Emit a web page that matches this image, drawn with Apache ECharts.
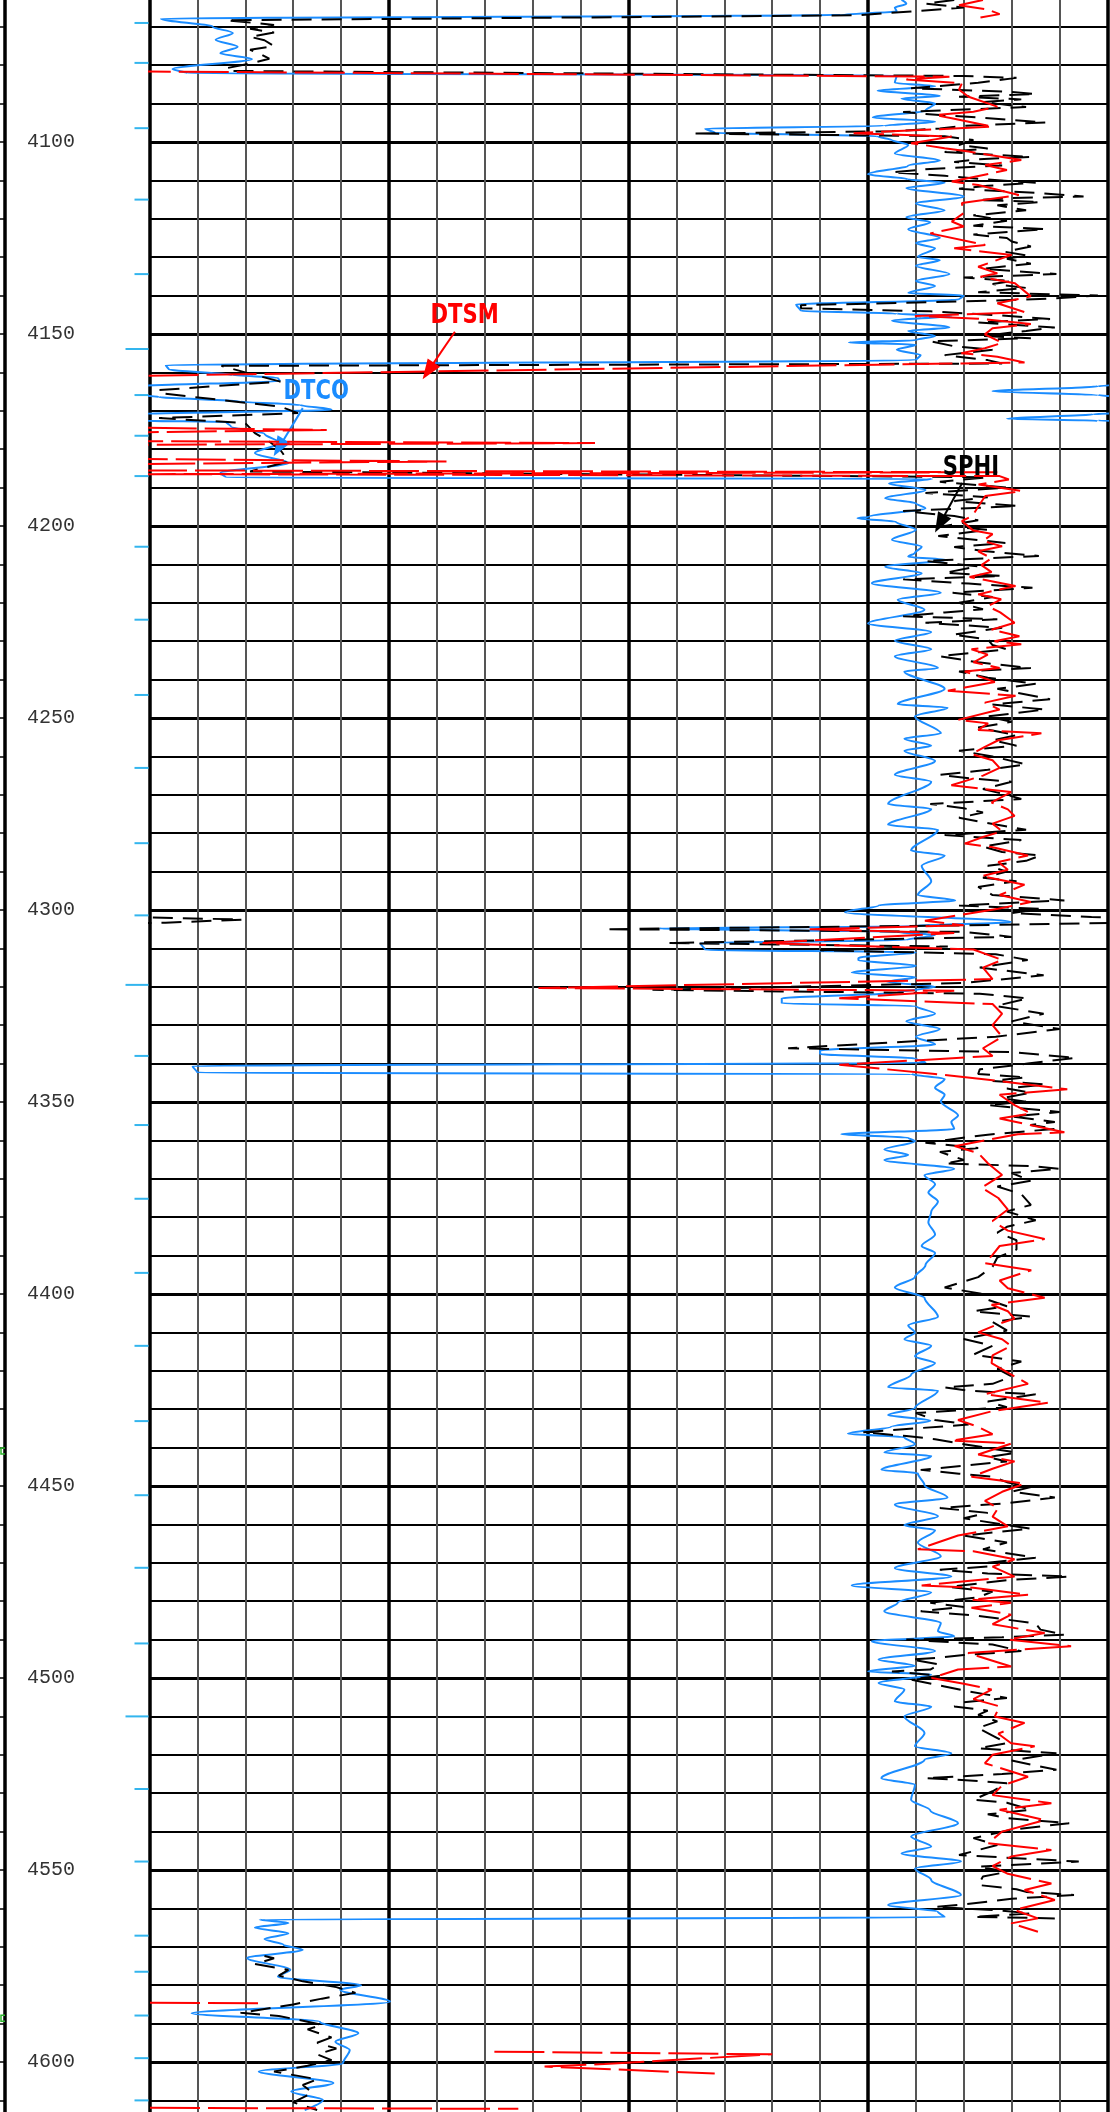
<!DOCTYPE html>
<html>
<head>
<meta charset="utf-8">
<script src="https://cdn.jsdelivr.net/npm/echarts@6/dist/echarts.min.js"></script>
<style>
  html, body { margin: 0; padding: 0; background: #ffffff; }
  #log { width: 1110px; height: 2112px; }
</style>
</head>
<body>
<div id="log"></div>
<script>
// Depth window of the log (m)
const DEPTH_TOP = 4060;
const DEPTH_BASE = 4620;

// Track scales: left value -> right value
const DTCO_SCALE = { left: 140, right: 40 };   // us/ft
const DTSM_SCALE = { left: 540, right: 40 };   // us/ft
const SPHI_SCALE = { left: 0.6, right: 0 };    // v/v

// Compressional slowness [depth, DTCO]
const DTCO = [
  [4063.0, 61.5], [4064.0, 61.0], [4065.0, 62.2], [4066.0, 62.0], [4066.9, 67.8],
  [4067.9, 138.8], [4070.0, 133.4], [4071.6, 131.3], [4073.4, 133.1], [4075.2, 130.8],
  [4076.9, 132.6], [4078.4, 129.3], [4081.0, 137.6], [4082.1, 136.0], [4082.6, 62.0],
  [4084.6, 62.2], [4085.5, 58.0], [4086.6, 64.0], [4088.0, 57.5], [4088.7, 61.5],
  [4090.0, 58.0], [4091.8, 59.0], [4093.6, 64.5], [4094.7, 58.0], [4095.8, 63.3],
  [4096.5, 82.0], [4097.6, 81.0], [4098.5, 64.0], [4099.5, 62.5], [4100.8, 60.8],
  [4103.0, 62.2], [4104.8, 57.5], [4106.1, 60.8], [4108.4, 65.0], [4109.7, 60.8],
  [4110.6, 57.0], [4112.0, 61.0], [4114.2, 55.0], [4116.0, 60.0], [4117.8, 57.0],
  [4119.6, 61.0], [4120.9, 58.5], [4122.7, 60.8], [4125.0, 57.5], [4126.3, 60.0],
  [4127.7, 58.0], [4129.9, 59.8], [4130.8, 57.5], [4132.2, 60.0], [4134.4, 56.5],
  [4136.2, 60.0], [4137.5, 58.0], [4139.3, 60.8], [4140.0, 55.0], [4141.0, 55.5],
  [4142.3, 72.5], [4144.0, 72.0], [4144.7, 62.0], [4145.3, 56.3], [4146.5, 62.5],
  [4148.3, 56.5], [4149.2, 60.8], [4150.5, 58.0], [4151.6, 60.0], [4152.2, 67.0],
  [4152.8, 60.0], [4154.1, 62.0], [4155.5, 59.5], [4156.8, 60.0], [4158.1, 138.3],
  [4159.2, 138.0], [4160.7, 131.3], [4161.4, 126.6], [4162.2, 126.4], [4163.6, 141.0],
  [4164.9, 152.0], [4165.9, 141.0], [4166.4, 139.0], [4167.6, 130.5], [4168.5, 124.3],
  [4169.7, 121.0], [4170.9, 141.5], [4172.1, 150.5], [4172.6, 141.0], [4172.9, 132.0],
  [4174.1, 131.5], [4176.0, 128.0], [4178.4, 126.4], [4181.0, 129.0], [4183.6, 125.5],
  [4186.2, 132.6], [4187.4, 132.0], [4187.7, 58.3], [4188.9, 62.8], [4190.6, 59.0],
  [4192.8, 63.2], [4194.1, 60.0], [4195.4, 59.0], [4197.6, 64.9], [4198.0, 66.1],
  [4198.9, 62.1], [4201.0, 60.0], [4203.6, 62.5], [4205.4, 59.4], [4207.0, 60.1],
  [4208.0, 60.8], [4208.8, 56.9], [4210.6, 63.2], [4212.3, 59.4], [4214.9, 64.6],
  [4217.4, 57.4], [4219.2, 61.9], [4221.8, 59.1], [4225.4, 65.0], [4227.6, 58.4],
  [4229.9, 62.2], [4232.1, 58.4], [4233.9, 62.2], [4237.0, 57.7], [4237.9, 61.2],
  [4242.4, 57.0], [4246.4, 61.9], [4247.3, 56.7], [4249.6, 60.1], [4254.0, 57.4],
  [4255.4, 61.2], [4257.2, 58.4], [4258.5, 61.2], [4261.2, 58.0], [4264.8, 62.2],
  [4266.6, 58.4], [4272.4, 62.9], [4273.7, 58.4], [4277.8, 62.9], [4279.1, 57.7],
  [4284.5, 60.5], [4285.8, 57.0], [4288.5, 59.4], [4292.5, 58.4], [4296.1, 59.8],
  [4297.5, 55.9], [4298.8, 63.9], [4300.6, 67.4], [4303.1, 50.1], [4304.2, 60.0],
  [4304.8, 86.8], [4305.7, 62.0], [4306.5, 58.0], [4307.8, 61.0], [4308.6, 82.5],
  [4310.4, 82.0], [4311.0, 60.0], [4312.5, 66.0], [4313.1, 66.0], [4314.5, 60.0],
  [4316.3, 66.7], [4317.5, 60.0], [4318.7, 63.0], [4320.0, 58.0], [4321.5, 62.0],
  [4323.0, 74.0], [4324.3, 74.0], [4325.0, 60.0], [4327.0, 58.0], [4329.0, 61.0],
  [4331.0, 57.5], [4333.0, 60.0], [4335.0, 58.0], [4336.6, 70.0], [4337.5, 70.0],
  [4338.7, 60.0], [4339.8, 59.0], [4340.6, 135.5], [4342.4, 135.0], [4342.7, 60.5],
  [4344.0, 57.0], [4346.3, 58.0], [4348.1, 57.0], [4349.9, 57.4], [4353.5, 55.6],
  [4355.2, 56.3], [4357.0, 56.0], [4358.4, 67.8], [4359.3, 60.8], [4360.2, 60.1],
  [4362.4, 63.3], [4363.8, 60.8], [4365.1, 63.3], [4367.4, 56.0], [4369.1, 59.1],
  [4371.4, 58.0], [4373.6, 58.7], [4375.9, 57.7], [4378.6, 58.4], [4381.3, 58.7],
  [4384.5, 58.0], [4387.5, 59.4], [4389.3, 58.0], [4392.5, 59.0], [4395.6, 60.1],
  [4398.3, 62.2], [4401.0, 59.1], [4405.9, 57.7], [4408.2, 60.8], [4410.0, 60.1],
  [4411.8, 61.2], [4413.5, 58.4], [4416.2, 60.1], [4418.0, 58.0], [4421.0, 60.5],
  [4424.3, 62.9], [4425.2, 57.7], [4429.7, 60.1], [4431.5, 62.9], [4433.0, 58.5],
  [4434.6, 62.6], [4436.4, 67.1], [4437.3, 61.2], [4439.1, 60.1], [4441.3, 63.3],
  [4442.2, 58.4], [4445.8, 63.6], [4446.7, 59.8], [4449.8, 59.1], [4453.0, 56.7],
  [4454.8, 62.2], [4457.9, 57.7], [4460.2, 61.2], [4461.5, 58.0], [4464.7, 59.8],
  [4468.3, 57.4], [4471.4, 62.2], [4473.6, 56.3], [4475.9, 66.7], [4477.7, 58.4],
  [4480.4, 61.9], [4482.6, 63.3], [4485.7, 57.4], [4487.8, 57.7], [4489.1, 56.0],
  [4490.4, 64.6], [4493.0, 58.0], [4495.2, 63.9], [4496.8, 60.1], [4498.3, 65.0],
  [4499.1, 58.4], [4501.3, 63.9], [4503.0, 61.2], [4506.1, 62.2], [4507.5, 58.4],
  [4510.0, 61.2], [4514.3, 59.1], [4517.8, 60.1], [4519.6, 56.3], [4521.3, 59.1],
  [4526.1, 63.6], [4527.8, 60.1], [4531.7, 60.5], [4534.5, 58.5], [4537.8, 55.6],
  [4541.3, 60.5], [4543.9, 58.4], [4545.7, 61.5], [4547.8, 55.3], [4549.6, 60.1],
  [4552.6, 58.4], [4556.5, 55.3], [4559.1, 62.9], [4560.9, 57.7], [4562.3, 57.0],
  [4562.9, 128.5], [4563.8, 125.5], [4565.0, 129.0], [4566.5, 125.5], [4568.0, 128.0],
  [4569.5, 126.0], [4570.8, 124.0], [4572.9, 129.8], [4576.0, 125.3], [4577.8, 126.6],
  [4580.0, 117.9], [4581.2, 120.1], [4584.3, 114.9], [4587.3, 135.6], [4589.5, 122.2],
  [4592.5, 118.2], [4594.7, 120.6], [4596.9, 119.1], [4600.3, 119.8], [4602.5, 128.6],
  [4605.5, 120.8], [4607.7, 125.2], [4609.9, 121.9], [4612.5, 123.8]
];

// Shear slowness [depth, DTSM]; null = no reading
const DTSM = [
  [4063.0, 105.0], [4064.4, 117.5], [4065.5, 102.5], [4066.7, 96.3], [4067.6, 106.3],
  [4068.0, null],
  [4081.6, 555.0], [4083.0, 122.5], [4083.7, 145.0], [4084.7, 116.0], [4086.4, 117.5],
  [4088.2, 112.5], [4090.8, 97.5], [4092.1, 110.0], [4093.0, 130.0], [4093.8, 121.3],
  [4096.0, 100.0], [4097.7, 172.5], [4098.6, 121.3], [4100.3, 142.5], [4101.6, 125.0],
  [4102.5, 112.5], [4104.7, 85.0], [4106.0, 103.8], [4107.3, 92.5], [4110.3, 121.3],
  [4111.2, 107.5], [4113.8, 86.3], [4115.9, 116.0], [4118.5, 115.0], [4120.7, 121.3],
  [4122.0, 115.0], [4123.8, 132.5], [4126.8, 103.8], [4127.7, 120.0], [4129.4, 90.0],
  [4132.5, 107.5], [4134.2, 97.5], [4135.1, 106.3], [4136.8, 88.3], [4140.2, 80.0],
  [4142.0, 97.5], [4144.3, 83.3], [4145.3, 140.5], [4146.0, 107.5], [4147.4, 80.0],
  [4148.5, 100.0], [4150.1, 104.0], [4152.3, 95.0], [4153.7, 104.0], [4155.0, 116.3],
  [4155.9, 97.5], [4157.4, 83.3], [4161.0, 560.0], [4174.3, 560.0], [4175.0, 447.5],
  [4175.7, 560.0], [4177.9, 560.0], [4178.4, 307.5], [4178.9, 560.0], [4182.5, 560.0],
  [4183.2, 385.0], [4183.9, 560.0], [4185.5, 560.0], [4186.0, 97.5], [4186.5, 545.0],
  [4187.0, 96.3], [4187.9, 91.5], [4189.2, 107.3], [4190.9, 84.8], [4192.2, 103.8],
  [4194.8, 107.3], [4197.4, 110.5], [4198.7, 116.0], [4201.2, 110.0], [4202.1, 100.0],
  [4203.9, 105.0], [4205.3, 95.0], [4206.6, 107.5], [4208.4, 100.5], [4210.2, 105.8],
  [4212.0, 100.5], [4213.3, 112.0], [4215.6, 88.0], [4217.8, 107.5], [4219.1, 95.5],
  [4220.9, 102.5], [4222.5, 96.0], [4225.2, 88.5], [4227.0, 100.5], [4228.7, 86.0],
  [4230.0, 99.0], [4230.8, 85.0], [4232.1, 111.0], [4233.5, 102.5], [4235.5, 110.0],
  [4237.0, 96.3], [4237.9, 114.5], [4240.6, 98.8], [4242.9, 123.3], [4244.2, 88.0],
  [4246.0, 104.0], [4247.8, 96.3], [4250.5, 118.0], [4251.4, 102.3], [4253.1, 107.5],
  [4254.0, 74.5], [4255.8, 97.0], [4257.5, 104.0], [4259.4, 111.0], [4261.0, 100.0],
  [4263.0, 96.3], [4265.0, 105.0], [4267.5, 121.5], [4269.3, 90.3], [4272.0, 100.5],
  [4273.8, 92.0], [4275.5, 88.5], [4277.5, 100.0], [4279.5, 95.0], [4281.0, 105.0],
  [4282.7, 114.5], [4283.6, 100.5], [4285.8, 81.5], [4287.5, 97.0], [4289.5, 92.0],
  [4291.2, 105.8], [4293.4, 83.3], [4296.1, 96.3], [4297.9, 80.0], [4299.7, 97.0],
  [4302.8, 135.3], [4304.0, 115.0], [4305.0, 197.0], [4306.0, 120.0], [4308.6, 220.0],
  [4310.3, 110.0], [4313.0, 95.0], [4315.0, 105.0], [4318.0, 100.0], [4320.3, 337.0],
  [4321.0, 120.0], [4323.0, 180.0], [4324.5, 100.0], [4327.0, 95.0], [4330.0, 100.0],
  [4333.0, 95.0], [4336.0, 105.0], [4338.0, 100.0], [4340.3, 180.0], [4342.7, 130.0],
  [4344.0, 105.8], [4346.7, 61.0], [4348.1, 96.3], [4350.8, 88.5], [4353.0, 80.0],
  [4354.3, 96.3], [4357.9, 62.5], [4358.4, 86.8], [4361.5, 119.8], [4363.3, 107.5],
  [4366.0, 102.3], [4369.0, 95.0], [4372.3, 105.8], [4375.0, 97.0], [4378.0, 92.0],
  [4381.0, 100.0], [4383.5, 92.0], [4385.7, 72.8], [4387.5, 96.3], [4389.8, 100.0],
  [4392.0, 104.0], [4393.8, 79.8], [4396.5, 96.3], [4398.5, 92.0], [4401.0, 72.8],
  [4402.8, 100.5], [4404.5, 92.0], [4406.4, 88.5], [4408.0, 98.0], [4410.0, 107.5],
  [4411.8, 95.0], [4413.5, 90.3], [4416.0, 100.0], [4418.0, 100.5], [4420.5, 92.0],
  [4423.4, 81.5], [4426.1, 104.0], [4428.3, 71.0], [4430.5, 100.0], [4432.8, 118.0],
  [4434.6, 107.5], [4436.5, 100.0], [4438.2, 121.5], [4438.9, 90.0], [4441.8, 107.5],
  [4443.6, 88.5], [4445.5, 100.0], [4447.6, 111.0], [4449.4, 83.3], [4451.5, 95.0],
  [4453.9, 104.0], [4455.7, 97.0], [4458.0, 100.0], [4460.5, 92.0], [4462.9, 118.0],
  [4466.5, 139.0], [4467.0, 110.0], [4469.1, 88.5], [4471.0, 100.0], [4473.6, 88.5],
  [4475.9, 137.0], [4476.5, 110.0], [4478.3, 81.5], [4479.6, 111.0], [4480.4, 90.3],
  [4481.7, 111.0], [4483.5, 90.3], [4486.0, 100.0], [4488.3, 72.8], [4490.0, 92.0],
  [4491.7, 59.0], [4493.5, 112.8], [4495.5, 100.0], [4497.0, 90.3], [4497.8, 118.0],
  [4500.0, 131.8], [4501.5, 115.0], [4503.0, 100.5], [4505.5, 110.0], [4507.4, 96.3],
  [4510.0, 98.8], [4511.7, 83.3], [4514.5, 97.0], [4517.0, 90.3], [4517.8, 78.0],
  [4520.0, 100.0], [4522.2, 104.0], [4525.7, 81.5], [4528.0, 95.0], [4530.5, 100.0],
  [4532.6, 69.3], [4534.3, 96.3], [4537.0, 72.8], [4540.0, 95.0], [4543.0, 102.3],
  [4544.8, 69.3], [4546.5, 90.3], [4549.0, 100.0], [4551.0, 92.0], [4553.5, 69.3],
  [4555.2, 83.3], [4557.8, 67.5], [4560.4, 88.5], [4562.6, 76.3], [4563.9, 90.3],
  [4566.1, 76.3], [4566.5, null],
  [4584.5, 570.0], [4584.7, 483.3], [4585.0, null],
  [4597.3, 360.0], [4598.0, 215.0], [4600.5, 302.5], [4601.2, 333.8], [4603.0, 245.0],
  [4603.5, null],
  [4611.9, 570.0], [4612.2, 347.5]
];

// Sonic porosity [depth, SPHI]; null = no reading
const SPHI = [
  [4063.0, 0.096], [4064.0, 0.114], [4065.0, 0.090], [4066.0, 0.123], [4067.0, 0.156],
  [4068.3, 0.552], [4069.5, 0.522], [4070.5, 0.537], [4071.5, 0.522], [4072.6, 0.537],
  [4073.5, 0.528], [4075.0, 0.522], [4076.0, 0.537], [4077.0, 0.531], [4078.3, 0.525],
  [4079.3, 0.534], [4080.8, 0.552], [4081.5, 0.549], [4082.8, 0.090], [4083.3, 0.057],
  [4084.6, 0.081], [4086.0, 0.123], [4086.9, 0.063], [4087.5, 0.045], [4088.2, 0.093],
  [4088.9, 0.054], [4089.6, 0.078], [4090.2, 0.066], [4090.9, 0.051], [4092.2, 0.128],
  [4093.0, 0.105], [4093.6, 0.081], [4094.9, 0.039], [4095.8, 0.090], [4096.5, 0.105],
  [4097.2, 0.135], [4097.8, 0.260], [4098.5, 0.102], [4099.5, 0.084], [4100.8, 0.093],
  [4101.7, 0.075], [4102.6, 0.102], [4103.9, 0.048], [4104.5, 0.081], [4105.2, 0.096],
  [4106.1, 0.066], [4107.0, 0.111], [4107.9, 0.135], [4108.8, 0.102], [4109.7, 0.078],
  [4110.6, 0.045], [4111.4, 0.075], [4112.2, 0.093], [4113.3, 0.042], [4114.2, 0.015],
  [4114.6, 0.060], [4115.1, 0.081], [4115.6, 0.042], [4116.5, 0.069], [4117.8, 0.051],
  [4119.1, 0.084], [4120.5, 0.063], [4121.8, 0.084], [4122.7, 0.039], [4124.1, 0.084],
  [4125.0, 0.063], [4125.9, 0.060], [4127.2, 0.048], [4128.6, 0.064], [4129.5, 0.051],
  [4130.4, 0.063], [4131.7, 0.048], [4133.0, 0.078], [4134.4, 0.032], [4135.3, 0.090],
  [4136.2, 0.060], [4137.0, 0.072], [4138.0, 0.051], [4139.1, 0.081], [4140.0, 0.006],
  [4140.7, 0.033], [4141.3, 0.069], [4142.5, 0.192], [4143.3, 0.192], [4144.1, 0.111],
  [4145.2, 0.066], [4146.1, 0.036], [4147.0, 0.081], [4148.3, 0.033], [4149.2, 0.051],
  [4150.5, 0.078], [4151.1, 0.048], [4151.9, 0.111], [4153.2, 0.096], [4154.1, 0.072],
  [4155.5, 0.102], [4156.8, 0.075], [4157.7, 0.066], [4158.3, 0.555], [4160.0, 0.540],
  [4162.4, 0.518], [4164.6, 0.594], [4165.4, 0.594], [4168.9, 0.518], [4170.6, 0.507],
  [4171.9, 0.594], [4173.2, 0.540], [4175.8, 0.534], [4178.0, 0.525], [4180.2, 0.518],
  [4183.2, 0.513], [4185.8, 0.537], [4187.3, 0.075], [4188.5, 0.105], [4190.0, 0.063],
  [4191.4, 0.114], [4192.5, 0.075], [4193.5, 0.096], [4194.8, 0.056], [4196.1, 0.128],
  [4197.4, 0.096], [4198.5, 0.081], [4200.0, 0.102], [4201.0, 0.075], [4202.6, 0.106],
  [4204.4, 0.064], [4205.5, 0.096], [4206.5, 0.078], [4207.8, 0.043], [4209.1, 0.114],
  [4210.5, 0.081], [4212.2, 0.102], [4213.0, 0.066], [4213.9, 0.128], [4215.0, 0.087],
  [4216.1, 0.047], [4217.4, 0.097], [4218.5, 0.072], [4220.0, 0.093], [4221.7, 0.078],
  [4222.5, 0.102], [4223.5, 0.128], [4224.3, 0.069], [4225.2, 0.114], [4226.5, 0.066],
  [4228.3, 0.097], [4229.5, 0.075], [4231.0, 0.072], [4232.1, 0.063], [4233.9, 0.105],
  [4235.5, 0.081], [4237.0, 0.048], [4237.9, 0.093], [4239.5, 0.075], [4241.1, 0.045],
  [4242.4, 0.069], [4245.1, 0.036], [4246.5, 0.072], [4247.8, 0.039], [4249.6, 0.075],
  [4251.0, 0.060], [4252.5, 0.081], [4254.5, 0.057], [4255.8, 0.072], [4257.2, 0.057],
  [4258.5, 0.093], [4260.0, 0.072], [4262.1, 0.051], [4263.5, 0.075], [4264.8, 0.105],
  [4265.8, 0.084], [4266.6, 0.060], [4268.5, 0.078], [4270.0, 0.063], [4271.1, 0.054],
  [4272.4, 0.111], [4273.5, 0.090], [4274.6, 0.078], [4276.0, 0.093], [4277.8, 0.069],
  [4279.1, 0.051], [4280.5, 0.102], [4281.8, 0.054], [4283.5, 0.078], [4284.9, 0.066],
  [4285.8, 0.042], [4287.2, 0.051], [4288.5, 0.075], [4290.0, 0.063], [4291.6, 0.078],
  [4292.5, 0.057], [4294.0, 0.081], [4296.1, 0.072], [4297.5, 0.027], [4298.8, 0.093],
  [4299.7, 0.042], [4300.8, 0.060], [4301.8, 0.010], [4302.5, -0.058], [4303.3, -0.010],
  [4304.0, 0.090], [4305.0, 0.315], [4305.7, 0.090], [4307.0, 0.060], [4308.6, 0.276],
  [4309.5, 0.100], [4310.5, 0.180], [4311.5, 0.070], [4313.0, 0.050], [4315.0, 0.080],
  [4317.0, 0.040], [4319.0, 0.090], [4320.8, 0.285], [4321.8, 0.080], [4323.0, 0.050],
  [4325.0, 0.070], [4327.0, 0.040], [4329.0, 0.060], [4331.0, 0.030], [4333.0, 0.070],
  [4336.0, 0.200], [4337.0, 0.060], [4338.5, 0.020], [4340.0, 0.050], [4341.5, 0.080],
  [4342.7, 0.081], [4343.6, 0.051], [4344.5, 0.072], [4345.4, 0.039], [4346.5, 0.063],
  [4347.6, 0.048], [4349.0, 0.066], [4349.9, 0.051], [4350.8, 0.075], [4352.6, 0.030],
  [4353.8, 0.060], [4355.2, 0.033], [4356.0, 0.048], [4357.0, 0.033], [4358.5, 0.075],
  [4360.6, 0.114], [4362.0, 0.081], [4363.0, 0.105], [4365.1, 0.090], [4366.0, 0.102],
  [4366.7, 0.048], [4367.4, 0.030], [4368.5, 0.060], [4370.5, 0.048], [4372.0, 0.069],
  [4374.0, 0.054], [4376.8, 0.048], [4378.5, 0.063], [4380.8, 0.045], [4382.5, 0.063],
  [4384.0, 0.069], [4386.0, 0.057], [4388.4, 0.057], [4390.5, 0.069], [4392.9, 0.072],
  [4395.6, 0.081], [4398.3, 0.102], [4400.0, 0.078], [4401.5, 0.075], [4403.2, 0.063],
  [4404.5, 0.084], [4405.9, 0.048], [4407.3, 0.072], [4409.5, 0.063], [4411.7, 0.090],
  [4413.5, 0.072], [4415.8, 0.084], [4417.6, 0.054], [4419.5, 0.069], [4421.5, 0.060],
  [4423.4, 0.072], [4424.3, 0.102], [4425.2, 0.087], [4426.1, 0.045], [4428.0, 0.075],
  [4429.5, 0.063], [4431.0, 0.120], [4432.8, 0.108], [4434.0, 0.087], [4436.0, 0.153],
  [4437.0, 0.126], [4437.8, 0.108], [4439.1, 0.090], [4441.3, 0.057], [4442.5, 0.075],
  [4443.6, 0.063], [4445.8, 0.117], [4446.8, 0.093], [4447.6, 0.072], [4449.0, 0.063],
  [4450.3, 0.048], [4451.5, 0.060], [4453.0, 0.033], [4454.5, 0.063], [4455.7, 0.105],
  [4457.0, 0.075], [4458.4, 0.090], [4460.0, 0.066], [4461.1, 0.048], [4462.9, 0.090],
  [4464.7, 0.063], [4466.5, 0.078], [4468.7, 0.045], [4470.0, 0.075], [4470.9, 0.072],
  [4471.8, 0.105], [4472.8, 0.075], [4473.6, 0.024], [4474.5, 0.063], [4476.3, 0.099],
  [4477.5, 0.072], [4479.0, 0.081], [4480.4, 0.111], [4481.5, 0.090], [4482.6, 0.117],
  [4483.7, 0.084], [4484.8, 0.063], [4485.8, 0.045], [4487.4, 0.042], [4488.7, 0.027],
  [4489.4, 0.066], [4490.0, 0.126], [4491.3, 0.072], [4493.0, 0.054], [4494.0, 0.090],
  [4494.8, 0.108], [4495.2, 0.123], [4496.5, 0.105], [4497.8, 0.111], [4498.3, 0.135],
  [4499.4, 0.105], [4500.4, 0.123], [4502.2, 0.102], [4503.5, 0.087], [4505.2, 0.063],
  [4506.3, 0.090], [4507.4, 0.096], [4508.5, 0.075], [4509.6, 0.081], [4511.3, 0.069],
  [4513.0, 0.081], [4515.0, 0.072], [4517.0, 0.063], [4518.3, 0.081], [4519.6, 0.032],
  [4521.5, 0.060], [4523.9, 0.032], [4525.0, 0.066], [4526.1, 0.114], [4526.8, 0.081],
  [4527.4, 0.063], [4529.5, 0.072], [4531.7, 0.084], [4532.5, 0.063], [4534.3, 0.048],
  [4535.5, 0.075], [4536.5, 0.063], [4537.8, 0.024], [4539.5, 0.060], [4541.7, 0.084],
  [4543.5, 0.069], [4546.1, 0.093], [4547.0, 0.054], [4547.8, 0.018], [4549.1, 0.081],
  [4550.5, 0.063], [4551.7, 0.078], [4553.9, 0.081], [4555.0, 0.057], [4555.7, 0.051],
  [4556.5, 0.021], [4557.5, 0.060], [4559.1, 0.093], [4559.6, 0.108], [4560.5, 0.069],
  [4561.3, 0.048], [4562.2, 0.084], [4562.6, 0.033], [4563.0, null],
  [4572.4, 0.528], [4573.0, 0.522], [4574.5, 0.534],
  [4576.0, 0.513], [4577.5, 0.519], [4579.0, 0.504], [4580.5, 0.483], [4582.0, 0.471],
  [4583.5, 0.492], [4585.0, 0.510], [4587.2, 0.543], [4588.0, 0.519], [4589.0, 0.507],
  [4590.3, 0.492], [4591.5, 0.501], [4593.6, 0.486], [4595.0, 0.495], [4596.5, 0.483],
  [4598.0, 0.495], [4599.5, 0.486], [4601.0, 0.501], [4602.5, 0.522], [4604.5, 0.495],
  [4606.0, 0.504], [4608.0, 0.498], [4610.5, 0.510], [4612.5, 0.495]
];

// Depth markers on the depth track (m)
const MARKERS = [
  4069.0, 4079.4, 4096.4, 4115.0, 4134.4, 4165.9, 4176.5, 4187.0, 4205.4, 4224.4,
  4244.0, 4263.0, 4282.6, 4301.4, 4338.0, 4356.0, 4375.2, 4394.5, 4413.5, 4433.1,
  4452.4, 4471.3, 4491.0, 4528.9, 4547.8, 4567.1, 4576.5, 4587.9, 4599.0, 4610.0
];
const MARKERS_MAJOR = [4153.9, 4319.5, 4510.0];
// Flags on the outer edge of the depth track (m)
const EDGE_FLAGS = [4440.9, 4588.6];

// Curve annotations: label anchor, arrow tail, arrow tip [value, depth]
const NOTES = {
  DTSM: { axis: 4, label: [375.5, 4145.2], from: [380.6, 4149.4], to: [394.5, 4159.6] },
  DTCO: { axis: 3, label: [122.6, 4165.2], from: [124.0, 4169.3], to: [126.5, 4179.6] },
  SPHI: { axis: 5, label: [0.0855, 4185.0], from: [0.091, 4188.8], to: [0.105, 4199.4] }
};

const COLORS = { DTCO: '#1a8cff', DTSM: '#ff0000', SPHI: '#000000' };

// --- layout -------------------------------------------------------------
const GRID_TOP = -11.6;            // pixel row of DEPTH_TOP
const PX_PER_M = 3.84;
const GRID_H = (DEPTH_BASE - DEPTH_TOP) * PX_PER_M;
const TRACK_LEFT = 149.5;
const TRACK_W = 958;

function toXY(arr, shift) {
  return arr.map(([d, v]) => [v === null ? '-' : v + shift, d]);
}

const LABEL_FONT = "'Liberation Sans Narrow', 'DejaVu Sans Condensed', 'Arial Narrow', sans-serif";

function arrow(name, color) {
  const n = NOTES[name];
  return {
    markLine: {
      silent: true, animation: false, symbol: ['none', 'triangle'], symbolSize: [15, 20],
      label: { show: false },
      lineStyle: { color: color, width: 2, type: 'solid' },
      emphasis: { disabled: true },
      data: [[{ coord: n.from }, { coord: n.to }]]
    }
  };
}

function curve(name, data, xIdx, opts) {
  return Object.assign({
    type: 'line', name: name, xAxisIndex: xIdx, yAxisIndex: 1,
    data: data, showSymbol: false, symbol: 'none', clip: true,
    connectNulls: false, animation: false, silent: true,
    emphasis: { disabled: true }
  }, opts);
}

const chart = echarts.init(document.getElementById('log'), null, { renderer: 'canvas' });

const option = {
  backgroundColor: '#ffffff',
  animation: false,
  grid: [
    { left: 5, top: GRID_TOP, width: TRACK_LEFT - 5, height: GRID_H, show: false,
      containLabel: false, outerBoundsMode: 'none' },
    { left: TRACK_LEFT, top: GRID_TOP, width: TRACK_W, height: GRID_H, show: false,
      containLabel: false, outerBoundsMode: 'none' },
    // same track, 50 m frame for the heavy depth lines
    { left: TRACK_LEFT, top: GRID_TOP - 10 * PX_PER_M, width: TRACK_W,
      height: (DEPTH_BASE - DEPTH_TOP + 40) * PX_PER_M, show: false,
      containLabel: false, outerBoundsMode: 'none' }
  ],
  xAxis: [
    { gridIndex: 0, type: 'value', min: 0, max: 1, show: false },
    { gridIndex: 1, type: 'value', min: 0, max: 20, interval: 1,
      axisLine: { show: false }, axisTick: { show: false }, axisLabel: { show: false },
      splitLine: { show: true, lineStyle: { color: '#555555', width: 2 } } },
    { gridIndex: 1, type: 'value', min: 0, max: 20, interval: 5,
      axisLine: { show: false }, axisTick: { show: false }, axisLabel: { show: false },
      splitLine: { show: true, lineStyle: { color: '#000000', width: 3.5 } } },
    { gridIndex: 1, type: 'value', min: DTCO_SCALE.right, max: DTCO_SCALE.left, inverse: true, show: false },
    { gridIndex: 1, type: 'value', min: DTSM_SCALE.right, max: DTSM_SCALE.left, inverse: true, show: false },
    { gridIndex: 1, type: 'value', min: SPHI_SCALE.right, max: SPHI_SCALE.left, inverse: true, show: false },
    { gridIndex: 2, type: 'value', min: 0, max: 1, show: false }
  ],
  yAxis: [
    { gridIndex: 0, type: 'value', inverse: true, min: DEPTH_TOP, max: DEPTH_BASE, interval: 10,
      axisLine: { show: true, onZero: false, lineStyle: { color: '#000000', width: 3.5 } },
      axisTick: { show: true, inside: false, length: 5, lineStyle: { color: '#000000', width: 1.5 } },
      axisLabel: {
        show: true, inside: true, margin: 46, align: 'center', verticalAlign: 'middle',
        color: '#333333', fontFamily: "'Liberation Mono', 'DejaVu Sans Mono', monospace", fontSize: 20,
        formatter: v => (v % 50 === 0 ? String(v) : '')
      },
      splitLine: { show: false } },
    { gridIndex: 1, type: 'value', inverse: true, min: DEPTH_TOP, max: DEPTH_BASE, interval: 10,
      axisLine: { show: false }, axisTick: { show: false }, axisLabel: { show: false },
      splitLine: { show: true, lineStyle: { color: '#000000', width: 2 } } },
    { gridIndex: 2, type: 'value', inverse: true, min: DEPTH_TOP - 10, max: DEPTH_BASE + 30, interval: 50,
      axisLine: { show: false }, axisTick: { show: false }, axisLabel: { show: false },
      splitLine: { show: true, lineStyle: { color: '#000000', width: 3 } } }
  ],
  series: [
    // depth markers
    {
      type: 'custom', xAxisIndex: 0, yAxisIndex: 0, silent: true, animation: false, clip: false,
      data: MARKERS.map(d => [1, d, 0]).concat(MARKERS_MAJOR.map(d => [1, d, 1])),
      renderItem: (params, api) => {
        const p = api.coord([api.value(0), api.value(1)]);
        const len = api.value(2) ? 23 : 14;
        return { type: 'line', shape: { x1: p[0] - len - 1, y1: p[1], x2: p[0] - 1, y2: p[1] },
                 style: { stroke: '#33b5ee', lineWidth: 2 } };
      }
    },
    // small green flags on the outer edge
    {
      type: 'custom', xAxisIndex: 0, yAxisIndex: 0, silent: true, animation: false, clip: false,
      data: EDGE_FLAGS.map(d => [0, d]),
      renderItem: (params, api) => {
        const p = api.coord([api.value(0), api.value(1)]);
        return { type: 'polyline',
                 shape: { points: [[p[0], p[1] - 3], [p[0] - 4, p[1] - 3], [p[0] - 4, p[1] + 3], [p[0], p[1] + 3]] },
                 style: { stroke: '#2fb52f', lineWidth: 1.5, fill: null } };
      }
    },
    // DTCO and its backup (wrapped) trace
    curve('DTCO', toXY(DTCO, 0), 3, Object.assign({
      smooth: 0.3, smoothMonotone: 'y',
      lineStyle: { color: COLORS.DTCO, width: 2 }, z: 3
    }, arrow('DTCO', COLORS.DTCO))),
    curve('DTCO backup', toXY(DTCO, DTCO_SCALE.right - DTCO_SCALE.left), 3, {
      smooth: 0.3, smoothMonotone: 'y',
      lineStyle: { color: COLORS.DTCO, width: 2 }, z: 3
    }),
    // SPHI and its backup (wrapped) trace
    curve('SPHI', toXY(SPHI, 0), 5, Object.assign({
      lineStyle: { color: COLORS.SPHI, width: 2, type: [20, 10] }, z: 4
    }, arrow('SPHI', COLORS.SPHI))),
    curve('SPHI backup', toXY(SPHI, SPHI_SCALE.left - SPHI_SCALE.right), 5, {
      lineStyle: { color: COLORS.SPHI, width: 2, type: [20, 10] }, z: 4
    }),
    // DTSM
    curve('DTSM', toXY(DTSM, 0), 4, Object.assign({
      lineStyle: { color: COLORS.DTSM, width: 2, type: [50, 8] }, z: 5
    }, arrow('DTSM', COLORS.DTSM)))
  ]
};

chart.setOption(option);

// Curve name labels, placed at their data anchors
const labels = Object.keys(NOTES).map(name => {
  const n = NOTES[name];
  const p = chart.convertToPixel({ xAxisIndex: n.axis, yAxisIndex: 1 }, n.label);
  return {
    type: 'text', x: p[0], y: p[1], scaleX: 0.87, z: 10, silent: true,
    style: {
      text: name, fill: COLORS[name], fontFamily: LABEL_FONT, fontWeight: 'bold', fontSize: 27,
      align: 'center', verticalAlign: 'middle'
    }
  };
});
chart.setOption({ graphic: labels });
</script>
</body>
</html>
